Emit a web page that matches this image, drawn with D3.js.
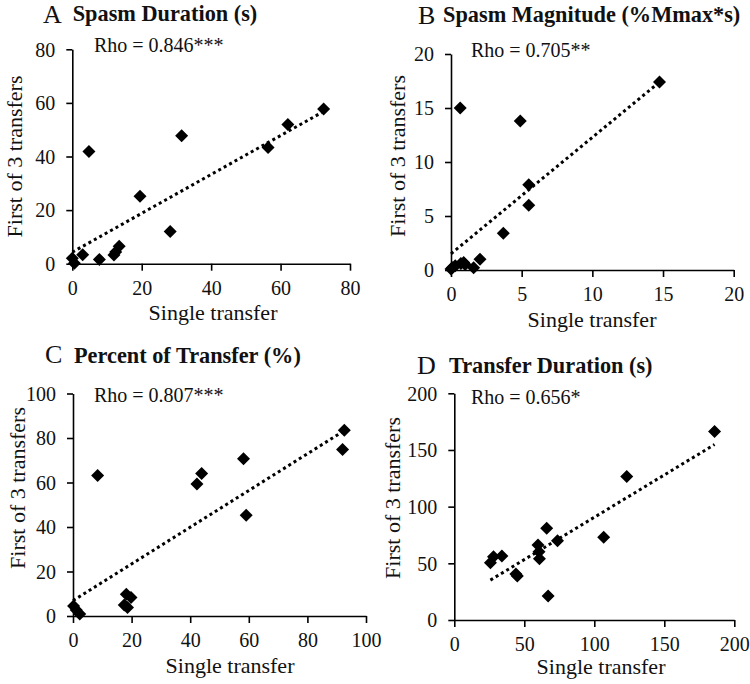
<!DOCTYPE html>
<html>
<head>
<meta charset="utf-8">
<script src="https://cdn.jsdelivr.net/npm/d3@7"></script>
<style>
  html, body { margin: 0; padding: 0; background: #fff; }
  svg { display: block; font-family: 'Liberation Serif', 'Times New Roman', serif; }
  svg text { font-family: 'Liberation Serif', 'Times New Roman', serif; }
</style>
</head>
<body>
<svg id="chart" width="750" height="684"></svg>
<script>
// ---------- DATA ----------
const panelLetters = ["A", "B", "C", "D"];
const panelTitles = ["Spasm Duration (s)", "Spasm Magnitude (%Mmax*s)", "Percent of Transfer (%)", "Transfer Duration (s)"];
const rhoLabels = ["Rho = 0.846***", "Rho = 0.705**", "Rho = 0.807***", "Rho = 0.656*"];
const xAxisLabel = "Single transfer";
const yAxisLabel = "First of 3 transfers";

const ticksA = [0, 20, 40, 60, 80];
const ticksB = [0, 5, 10, 15, 20];
const ticksC = [0, 20, 40, 60, 80, 100];
const ticksD = [0, 50, 100, 150, 200];

// [single transfer, first of 3 transfers]
const pointsA = [[0, 2.0], [0.6, 0.2], [3.0, 3.3], [4.8, 41.9], [7.8, 1.6], [12.0, 3.2], [12.5, 4.4], [13.5, 6.5], [19.5, 25.2], [28.2, 12.0], [31.5, 47.7], [56.4, 43.4], [62.1, 51.9], [72.4, 57.7]];
const pointsB = [[0, 0.1], [0.1, 0.2], [0.3, 0.4], [0.7, 0.6], [0.9, 0.7], [1.0, 0.5], [1.6, 0.2], [2.05, 1.0], [3.7, 3.4], [0.65, 15.0], [4.9, 13.8], [5.5, 7.9], [5.5, 6.0], [14.75, 17.4]];
const pointsC = [[0.2, 4.5], [1.1, 2.7], [2.3, 0.9], [8.4, 63.1], [18.2, 9.8], [17.5, 5.0], [18.6, 3.8], [19.8, 8.3], [42.3, 59.3], [43.9, 64.0], [58.2, 70.7], [59.1, 45.3], [92.6, 83.5], [92.0, 74.8]];
const pointsD = [[25.8, 50.6], [28, 55.9], [34, 56.5], [44, 40.6], [45, 38.8], [59.8, 66.2], [60.5, 60.3], [60.8, 54.1], [66, 80.9], [67, 21.2], [73.7, 70], [106.7, 72.9], [123.2, 126.5], [185.9, 166.2]];

// trend line endpoints [x, y]
const trendA = [[0, 4.3], [72.4, 56.8]];
const trendB = [[0, 1.5], [14.75, 17.4]];
const trendC = [[0, 6.9], [92.6, 83.3]];
const trendD = [[25.8, 35.2], [185.9, 154.8]];

// ---------- LAYOUT (positions only) ----------
const layout = [
  { x0: 72.3, x1: 350, yTop: 49.3, yBot: 263.7, letterX: 43, letterY: 23, titleX: 72.7, titleY: 20.5, rhoX: 94, rhoY: 52, yLabX: 22, yLabY: 156.5, xLabX: 213, xLabY: 320 },
  { x0: 451, x1: 733.7, yTop: 54, yBot: 270, letterX: 418, letterY: 23.5, titleX: 443, titleY: 21.7, rhoX: 471, rhoY: 56.7, yLabX: 405, yLabY: 156, xLabX: 592, xLabY: 327 },
  { x0: 73, x1: 366, yTop: 393.5, yBot: 616, letterX: 45, letterY: 363, titleX: 74, titleY: 362.5, rhoX: 94, rhoY: 401.7, yLabX: 25, yLabY: 488, xLabX: 230, xLabY: 673 },
  { x0: 454.3, x1: 734.3, yTop: 393.3, yBot: 620, letterX: 417, letterY: 373.5, titleX: 449, titleY: 373.3, rhoX: 471, rhoY: 404, yLabX: 400, yLabY: 498, xLabX: 601, xLabY: 674 }
];

const tickSets = [ticksA, ticksB, ticksC, ticksD];
const pointSets = [pointsA, pointsB, pointsC, pointsD];
const trendSets = [trendA, trendB, trendC, trendD];

const svg = d3.select("#chart");
const diamondHalf = 6.5;
const FF = "'Liberation Serif', 'Times New Roman', serif";

panelLetters.forEach((letter, i) => {
  const L = layout[i];
  const ticks = tickSets[i];
  const dom = [ticks[0], ticks[ticks.length - 1]];
  const x = d3.scaleLinear().domain(dom).range([L.x0, L.x1]);
  const y = d3.scaleLinear().domain(dom).range([L.yBot, L.yTop]);
  const g = svg.append("g");

  // axes
  const xAxis = d3.axisBottom(x).tickValues(ticks).tickSize(7).tickSizeOuter(0).tickPadding(8);
  const yAxis = d3.axisLeft(y).tickValues(ticks).tickSize(6).tickSizeOuter(0).tickPadding(11);
  const gx = g.append("g").attr("transform", `translate(0,${L.yBot})`).call(xAxis);
  const gy = g.append("g").attr("transform", `translate(${L.x0},0)`).call(yAxis);
  [gx, gy].forEach(a => {
    a.attr("font-family", FF).attr("font-size", 20);
    a.selectAll("path.domain").attr("stroke", "#000").attr("stroke-width", 1.6);
    a.selectAll(".tick line").attr("stroke", "#000").attr("stroke-width", 1.6);
    a.selectAll(".tick text").attr("fill", "#111");
  });
  gx.selectAll(".tick text").attr("dy", "0.8em");
  gy.selectAll(".tick text").attr("dy", "0.34em");

  // dotted trend line
  const line = d3.line().x(d => x(d[0])).y(d => y(d[1]));
  g.append("path").datum(trendSets[i]).attr("d", line)
    .attr("fill", "none").attr("stroke", "#000").attr("stroke-width", 3)
    .attr("stroke-dasharray", "3,3.2");

  // diamond markers
  g.selectAll("path.pt").data(pointSets[i]).enter().append("path")
    .attr("class", "pt")
    .attr("d", d => {
      const cx = x(d[0]), cy = y(d[1]), h = diamondHalf;
      return `M${cx},${cy - h}L${cx + h},${cy}L${cx},${cy + h}L${cx - h},${cy}Z`;
    })
    .attr("fill", "#000");

  // titles
  g.append("text").attr("x", L.letterX).attr("y", L.letterY).attr("fill", "#111")
    .attr("font-size", 26).text(letter);
  g.append("text").attr("x", L.titleX).attr("y", L.titleY).attr("fill", "#111")
    .attr("font-size", 22.3).attr("font-weight", "bold").text(panelTitles[i]);

  // rho annotation
  g.append("text").attr("x", L.rhoX).attr("y", L.rhoY).attr("fill", "#111")
    .attr("font-size", 20).text(rhoLabels[i]);

  // axis labels
  g.append("text").attr("transform", `translate(${L.yLabX},${L.yLabY}) rotate(-90)`)
    .attr("text-anchor", "middle").attr("fill", "#111").attr("font-size", 22).text(yAxisLabel);
  g.append("text").attr("x", L.xLabX).attr("y", L.xLabY)
    .attr("text-anchor", "middle").attr("fill", "#111").attr("font-size", 22).text(xAxisLabel);
});
</script>
</body>
</html>
